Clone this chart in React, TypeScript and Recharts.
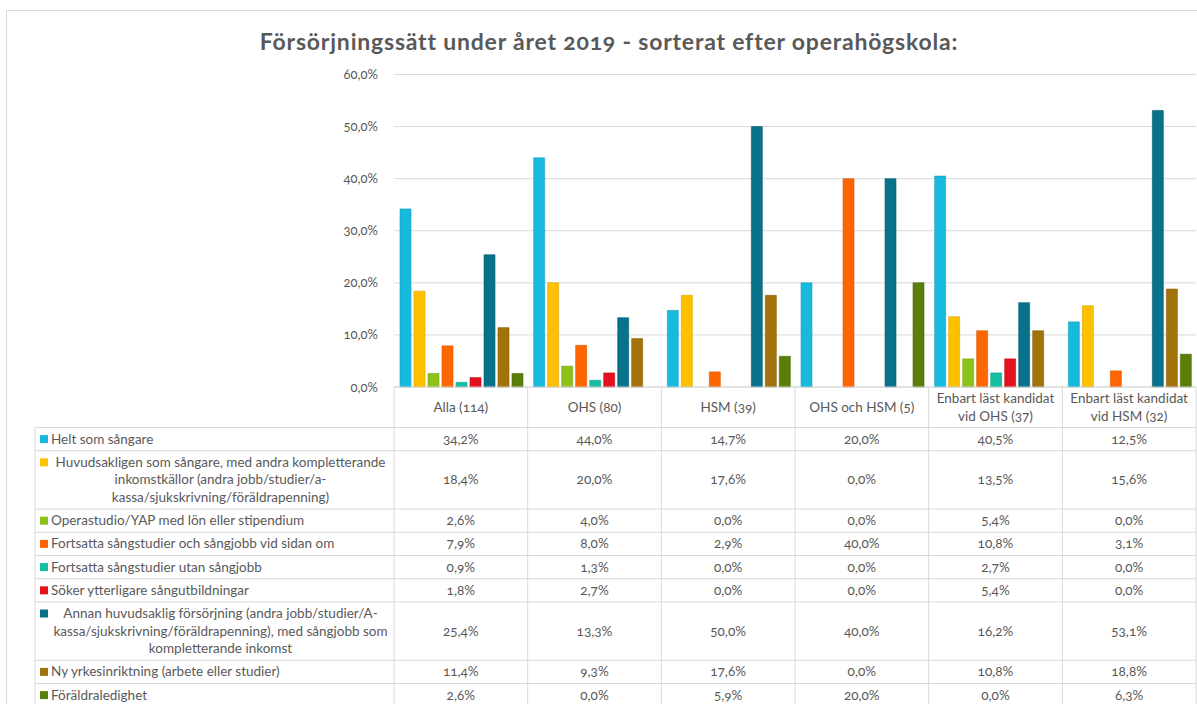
import React from 'react'
import { BarChart, Bar, XAxis, YAxis, CartesianGrid } from 'recharts'

// categories (columns of the data table)
const categories = [
  'Alla (114)',
  'OHS (80)',
  'HSM (39)',
  'OHS och HSM (5)',
  'Enbart läst kandidat\nvid OHS (37)',
  'Enbart läst kandidat\nvid HSM (32)',
]

// series, in legend order
const seriesKeys = ['helt', 'huvud', 'opera', 'fortOch', 'fortUtan', 'soker', 'annan', 'ny', 'foraldra']
const seriesLabels = [
  ['Helt som sångare'],
  ['Huvudsakligen som sångare, med andra kompletterande', 'inkomstkällor (andra jobb/studier/a-', 'kassa/sjukskrivning/föräldrapenning)'],
  ['Operastudio/YAP med lön eller stipendium'],
  ['Fortsatta sångstudier och sångjobb vid sidan om'],
  ['Fortsatta sångstudier utan sångjobb'],
  ['Söker ytterligare sångutbildningar'],
  ['Annan huvudsaklig försörjning (andra jobb/studier/A-', 'kassa/sjukskrivning/föräldrapenning), med sångjobb som', 'kompletterande inkomst'],
  ['Ny yrkesinriktning (arbete eller studier)'],
  ['Föräldraledighet'],
]
const seriesColors = ['#17B9DD', '#FFC000', '#8DC21A', '#FF6600', '#16BFA2', '#E3121C', '#07728A', '#A2730A', '#5A7E08']
const seriesEdges = ['#1A9FC0', '#D9A400', '#78A814', '#D95700', '#12A38A', '#C00F18', '#065F73', '#8A6209', '#4B6A06']

// values in percent, one per category
const helt = [34.2, 44.0, 14.7, 20.0, 40.5, 12.5]
const huvud = [18.4, 20.0, 17.6, 0.0, 13.5, 15.6]
const opera = [2.6, 4.0, 0.0, 0.0, 5.4, 0.0]
const fortOch = [7.9, 8.0, 2.9, 40.0, 10.8, 3.1]
const fortUtan = [0.9, 1.3, 0.0, 0.0, 2.7, 0.0]
const soker = [1.8, 2.7, 0.0, 0.0, 5.4, 0.0]
const annan = [25.4, 13.3, 50.0, 40.0, 16.2, 53.1]
const ny = [11.4, 9.3, 17.6, 0.0, 10.8, 18.8]
const foraldra = [2.6, 0.0, 5.9, 20.0, 0.0, 6.3]

const seriesValues = [helt, huvud, opera, fortOch, fortUtan, soker, annan, ny, foraldra]
const yTicks = [0, 10, 20, 30, 40, 50, 60]

const data = categories.map((name, i) => {
  const row: Record<string, string | number> = { name }
  seriesKeys.forEach((k, s) => {
    row[k] = seriesValues[s][i]
  })
  return row
})

const fmt = (v: number) => `${v.toFixed(1).replace('.', ',')}%`

const W = 1197
const H = 704
const PLOT_LEFT = 394
const PLOT_RIGHT = 1196
const PLOT_TOP = 74.5
const AXIS_Y = 387
const HEADER_H = 40.5
const Y_AXIS_W = 60
const TABLE_LEFT = 35
const ROW_H = 23.2
const LINE_H = 17.6
const FONT = "Lato, 'Open Sans', sans-serif"
const TEXT = '#595959'
const LINE = '#D9D9D9'
const NUMS = { fontVariantNumeric: 'oldstyle-nums' } as React.CSSProperties

const band = (PLOT_RIGHT - PLOT_LEFT) / categories.length

function HeaderTick(props: any) {
  const { x, payload } = props
  const lines = String(payload.value).split('\n')
  const cy = AXIS_Y + HEADER_H / 2
  return (
    <text textAnchor="middle" fill={TEXT} fontSize={13.5} fontFamily={FONT} style={NUMS}>
      {lines.map((l, i) => (
        <tspan key={i} x={x} y={cy + (i - (lines.length - 1) / 2) * LINE_H + 4.5}>
          {l}
        </tspan>
      ))}
    </text>
  )
}

function PercentTick(props: any) {
  const { x, y, payload } = props
  return (
    <text x={x} y={y + 4.5} textAnchor="end" fill={TEXT} fontSize={13} fontFamily={FONT} style={NUMS}>
      {fmt(payload.value)}
    </text>
  )
}

function DataTable() {
  let top = AXIS_Y + HEADER_H
  const rows = seriesLabels.map((lines, s) => {
    const h = ROW_H + (lines.length - 1) * LINE_H
    const r = { s, lines, top, h }
    top += h
    return r
  })
  const textMid = (TABLE_LEFT + 16 + PLOT_LEFT - 4) / 2
  return (
    <svg width={W} height={H} style={{ position: 'absolute', left: 0, top: 0, pointerEvents: 'none' }}>
      {/* outer frame */}
      <rect x={6.5} y={10.5} width={W + 10} height={H + 10} fill="none" stroke={LINE} />
      {/* column separators */}
      {Array.from({ length: categories.length + 1 }, (_, i) => (
        <line key={i} x1={PLOT_LEFT + i * band} x2={PLOT_LEFT + i * band} y1={AXIS_Y} y2={H} stroke={LINE} />
      ))}
      <line x1={TABLE_LEFT} x2={TABLE_LEFT} y1={AXIS_Y + HEADER_H} y2={H} stroke={LINE} />
      {rows.map(({ s, lines, top, h }) => (
        <g key={s}>
          <line x1={TABLE_LEFT} x2={PLOT_RIGHT} y1={top} y2={top} stroke={LINE} />
          <rect x={TABLE_LEFT + 5} y={top + ROW_H / 2 - 4} width={8} height={8} fill={seriesColors[s]} />
          {lines.length === 1 ? (
            <text x={TABLE_LEFT + 16} y={top + h / 2 + 4.5} fill={TEXT} fontSize={13.5} fontFamily={FONT}>
              {lines[0]}
            </text>
          ) : (
            <text textAnchor="middle" fill={TEXT} fontSize={13.5} fontFamily={FONT}>
              {lines.map((l, i) => (
                <tspan key={i} x={textMid} y={top + ROW_H / 2 + 4.5 + i * LINE_H}>
                  {l}
                </tspan>
              ))}
            </text>
          )}
          {seriesValues[s].map((v, c) => (
            <text
              key={c}
              x={PLOT_LEFT + (c + 0.5) * band}
              y={top + h / 2 + 4.5}
              textAnchor="middle"
              fill={TEXT}
              fontSize={13.5}
              fontFamily={FONT}
              style={NUMS}
            >
              {fmt(v)}
            </text>
          ))}
        </g>
      ))}
    </svg>
  )
}

export default function App() {
  return (
    <div style={{ position: 'fixed', left: 0, top: 0, width: W, height: H, background: '#fff', overflow: 'hidden', fontFamily: FONT }}>
      <div
        style={{
          position: 'absolute',
          left: 0,
          top: 25,
          width: 1218,
          textAlign: 'center',
          fontSize: 23,
          letterSpacing: 0.8,
          fontWeight: 700,
          color: TEXT,
          lineHeight: '32px',
          ...NUMS,
        }}
      >
        Försörjningssätt under året 2019 - sorterat efter operahögskola:
      </div>
      <div style={{ position: 'absolute', left: 0, top: 0 }}>
        <BarChart
          width={W}
          height={H}
          data={data}
          margin={{ top: PLOT_TOP, right: W - PLOT_RIGHT, bottom: H - AXIS_Y - HEADER_H, left: PLOT_LEFT - Y_AXIS_W }}
          barCategoryGap={6}
          barGap={3}
        >
          <CartesianGrid vertical={false} stroke={LINE} />
          <XAxis
            dataKey="name"
            height={HEADER_H}
            tickLine={false}
            tickSize={0}
            tickMargin={0}
            axisLine={{ stroke: LINE }}
            interval={0}
            tick={<HeaderTick />}
          />
          <YAxis
            width={Y_AXIS_W}
            domain={[0, 60]}
            ticks={yTicks}
            axisLine={false}
            tickLine={false}
            tickMargin={10}
            tick={<PercentTick />}
          />
          {seriesKeys.map((k, s) => (
            <Bar
              key={k}
              dataKey={k}
              fill={seriesColors[s]}
              stroke={seriesEdges[s]}
              strokeWidth={0.6}
              isAnimationActive={false}
            />
          ))}
        </BarChart>
      </div>
      <DataTable />
    </div>
  )
}
